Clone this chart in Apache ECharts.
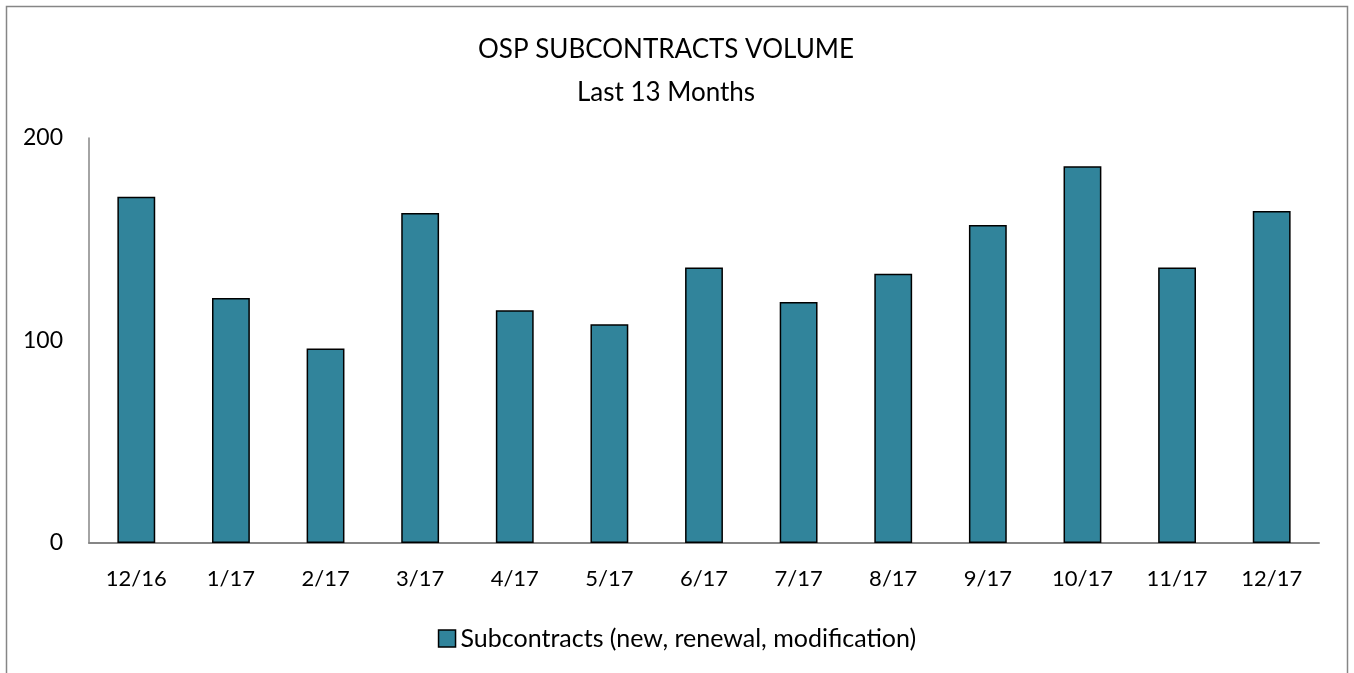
<!DOCTYPE html>
<html><head><meta charset="utf-8">
<script src="https://cdn.jsdelivr.net/npm/echarts@6/dist/echarts.min.js"></script>
<style>html,body{margin:0;padding:0;background:#fff}#c{width:1354px;height:673px}</style>
</head><body><div id="c"></div>
<script>
const categories = ['12/16','1/17','2/17','3/17','4/17','5/17','6/17','7/17','8/17','9/17','10/17','11/17','12/17'];
const subcontracts = [171,121,96,163,115,108,136,119,133,157,186,136,164];
const yTicks = [0,100,200];
const seriesName = 'Subcontracts (new, renewal, modification)';
const font = 'Lato, "Open Sans", sans-serif';
const chart = echarts.init(document.getElementById('c'), null, {renderer:'canvas'});
chart.setOption({
  animation:false,
  backgroundColor:'#fff',
  graphic:[{type:'rect',shape:{x:6.5,y:6.5,width:1341,height:700},style:{fill:'none',stroke:'#868686',lineWidth:1.5},silent:true}],
  title:{text:'OSP SUBCONTRACTS VOLUME\nLast 13 Months',left:661,textAlign:'center',top:23,
    textStyle:{fontFamily:font,fontSize:26,fontWeight:'normal',color:'#000',lineHeight:43,align:'center'}},
  legend:{top:621,left:'center',itemWidth:17,itemHeight:17,itemGap:4,
    textStyle:{fontFamily:font,fontSize:25,color:'#000'},
    data:[{name:seriesName,icon:'rect',itemStyle:{color:'#31849B',borderColor:'#000',borderWidth:1.5}}]},
  grid:{left:89,right:35,top:138,bottom:130,containLabel:false},
  xAxis:{type:'category',data:categories,
    axisLine:{lineStyle:{color:'#868686',width:2}},axisTick:{show:false},
    axisLabel:{fontFamily:font,fontSize:22,color:'#000',margin:25}},
  yAxis:{type:'value',min:yTicks[0],max:yTicks[yTicks.length-1],interval:100,
    axisLine:{show:true,lineStyle:{color:'#868686',width:1.5}},axisTick:{show:false},
    splitLine:{show:false},
    axisLabel:{fontFamily:font,fontSize:23,color:'#000',margin:26}},
  series:[{name:seriesName,type:'bar',data:subcontracts,barWidth:'40%',
    itemStyle:{color:'#31849B',borderColor:'#000',borderWidth:1.5}}]
});
</script></body></html>
